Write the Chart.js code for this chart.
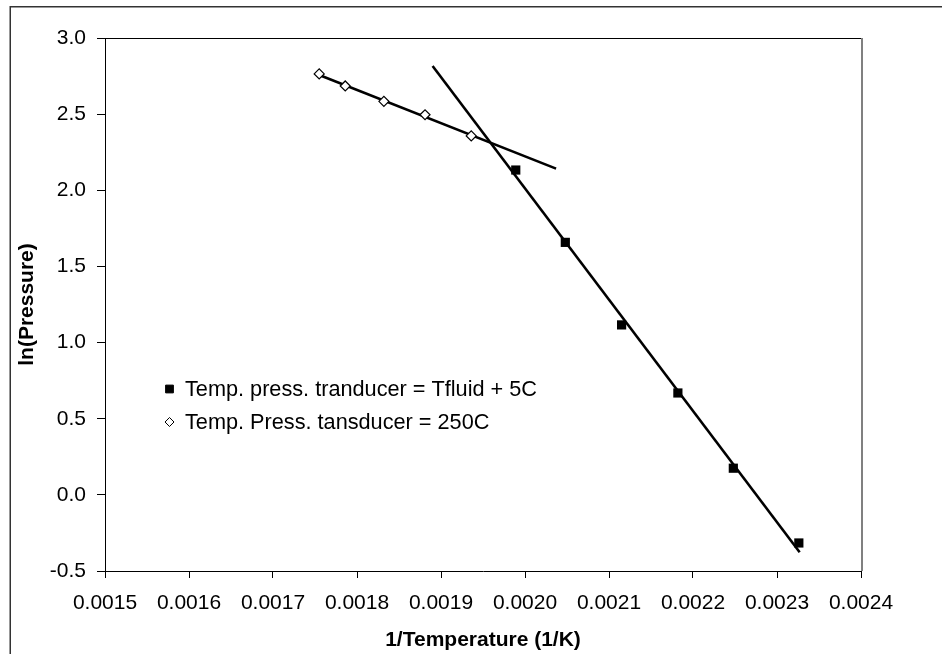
<!DOCTYPE html>
<html>
<head>
<meta charset="utf-8">
<script src="https://cdn.jsdelivr.net/npm/chart.js@4/dist/chart.umd.min.js"></script>
<style>
  html, body { margin: 0; padding: 0; background: #fff; }
  canvas { display: block; }
</style>
</head>
<body>
<canvas id="chart" width="942" height="654"></canvas>
<script>
// values
const squareX = [0.001989, 0.002048, 0.002115, 0.002182, 0.002248, 0.002326];
const squareY = [2.133, 1.658, 1.116, 0.669, 0.175, -0.316];
const diamondX = [0.001755, 0.001786, 0.001832, 0.001881, 0.001936];
const diamondY = [2.764, 2.685, 2.584, 2.496, 2.357];

// trend line end points
const steepFitX = [0.00189, 0.002327];
const steepFitY = [2.816, -0.377];
const shallowFitX = [0.001755, 0.002037];
const shallowFitY = [2.757, 2.142];

const seriesLabels = [
  "Temp. press. tranducer = Tfluid + 5C",
  "Temp. Press. tansducer = 250C",
];

const FONT = "'Liberation Sans', Arial, sans-serif";

function toPoints(xs, ys) {
  return xs.map(function (x, i) {
    return { x: x, y: ys[i] };
  });
}

const framePlugin = {
  id: "frames",
  beforeDraw(chart) {
    const ctx = chart.ctx;
    ctx.save();
    ctx.fillStyle = "#fff";
    ctx.fillRect(0, 0, chart.width, chart.height);
    ctx.strokeStyle = "#333";
    ctx.lineWidth = 1.5;
    ctx.strokeRect(10.25, 6.75, chart.width + 20, chart.height + 20);
    ctx.restore();
  },
  afterDraw(chart) {
    const ctx = chart.ctx;
    const a = chart.chartArea;
    ctx.save();
    ctx.strokeStyle = "#000";
    ctx.lineWidth = 1;
    ctx.beginPath();
    ctx.moveTo(a.left, a.top + 0.5);
    ctx.lineTo(a.right, a.top + 0.5);
    ctx.stroke();
    ctx.strokeStyle = "#808080";
    ctx.lineWidth = 2;
    ctx.beginPath();
    ctx.moveTo(a.right + 1, a.top);
    ctx.lineTo(a.right + 1, a.bottom);
    ctx.stroke();

    // legend inside the plot
    const rows = [
      { style: "rect", fill: "#000", radius: 5.5, text: seriesLabels[0] },
      { style: "rectRot", fill: "#fff", radius: 4.5, text: seriesLabels[1] },
    ];
    ctx.font = "21.7px " + FONT;
    ctx.textBaseline = "middle";
    ctx.textAlign = "left";
    rows.forEach(function (row, i) {
      const y = 389 + i * 33;
      ctx.fillStyle = row.fill;
      ctx.strokeStyle = "#000";
      ctx.lineWidth = 1;
      Chart.helpers.drawPoint(ctx, { pointStyle: row.style, radius: row.radius, borderWidth: 1 }, 169.5, y);
      ctx.fillStyle = "#000";
      ctx.fillText(row.text, 185, y + 1);
    });
    ctx.restore();
  },
};

new Chart(document.getElementById("chart"), {
  type: "scatter",
  data: {
    datasets: [
      {
        label: seriesLabels[0],
        data: toPoints(squareX, squareY),
        pointStyle: "rect",
        pointRadius: 6.5,
        backgroundColor: "#000",
        borderColor: "#000",
        borderWidth: 0,
        order: 1,
      },
      {
        label: seriesLabels[1],
        data: toPoints(diamondX, diamondY),
        pointStyle: "rectRot",
        pointRadius: 5,
        backgroundColor: "#fff",
        borderColor: "#000",
        borderWidth: 1.2,
        order: 0,
      },
      {
        label: "fit 1",
        data: toPoints(steepFitX, steepFitY),
        showLine: true,
        pointRadius: 0,
        borderColor: "#000",
        borderWidth: 2.6,
        order: 2,
      },
      {
        label: "fit 2",
        data: toPoints(shallowFitX, shallowFitY),
        showLine: true,
        pointRadius: 0,
        borderColor: "#000",
        borderWidth: 2.6,
        order: 2,
      },
    ],
  },
  options: {
    responsive: false,
    animation: false,
    layout: { padding: { top: 38, right: 81, left: 0, bottom: 0 } },
    plugins: {
      legend: { display: false },
      tooltip: { enabled: false },
    },
    scales: {
      x: {
        type: "linear",
        min: 0.0015,
        max: 0.0024,
        afterFit: function (scale) {
          scale.height = 83;
        },
        ticks: {
          stepSize: 0.0001,
          color: "#000",
          font: { family: FONT, size: 21, lineHeight: 1.2 },
          padding: 13,
          maxRotation: 0,
          autoSkip: false,
          callback: function (v) {
            return v.toFixed(4);
          },
        },
        grid: { drawOnChartArea: false, tickLength: 7, color: "#000" },
        border: { color: "#000", width: 1 },
        title: {
          display: true,
          text: "1/Temperature (1/K)",
          color: "#000",
          font: { family: FONT, size: 21, weight: "bold", lineHeight: 1.2 },
          padding: { top: 0, bottom: 1 },
        },
      },
      y: {
        min: -0.5,
        max: 3.0,
        afterFit: function (scale) {
          scale.width = 105;
        },
        ticks: {
          stepSize: 0.5,
          color: "#000",
          font: { family: FONT, size: 21, lineHeight: 1.2 },
          padding: 11,
          callback: function (v) {
            return v.toFixed(1);
          },
        },
        grid: { drawOnChartArea: false, tickLength: 8, color: "#000" },
        border: { color: "#000", width: 1 },
        title: {
          display: true,
          text: "ln(Pressure)",
          color: "#000",
          font: { family: FONT, size: 21, weight: "bold", lineHeight: 1.2 },
          padding: { top: 15, bottom: 0 },
        },
      },
    },
  },
  plugins: [framePlugin],
});
</script>
</body>
</html>
